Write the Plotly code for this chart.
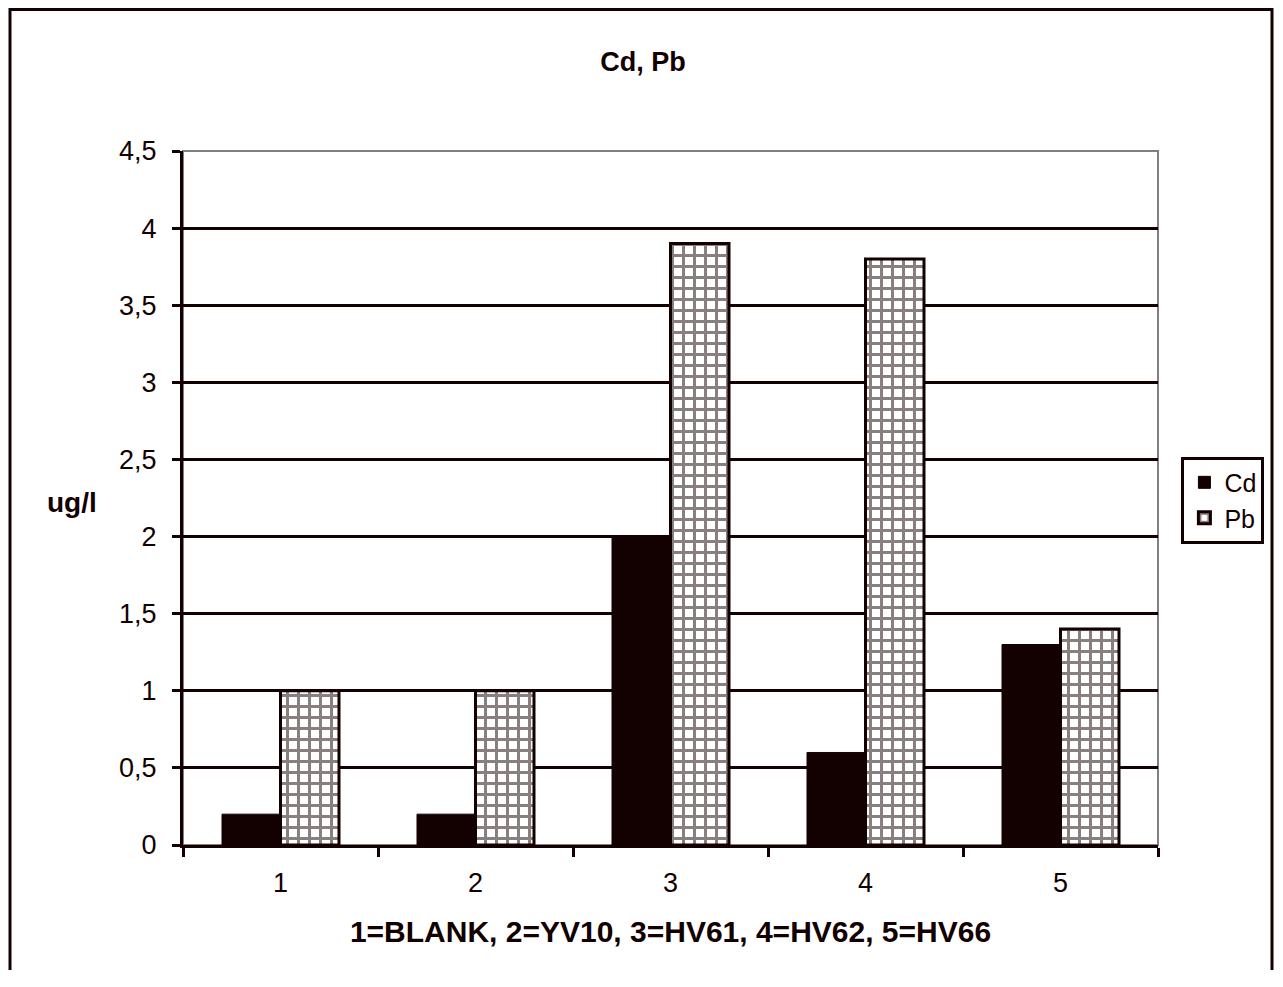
import plotly.graph_objects as go

# ── Data ──────────────────────────────────────────────────────────────────────
categories = ["1", "2", "3", "4", "5"]
cd_values  = [0.2, 0.2, 2.0, 0.6, 1.3]
pb_values  = [1.0, 1.0, 3.9, 3.8, 1.4]
y_ticks    = [0, 0.5, 1, 1.5, 2, 2.5, 3, 3.5, 4, 4.5]
y_labels   = ["0", "0,5", "1", "1,5", "2", "2,5", "3", "3,5", "4", "4,5"]

INK  = "#130000"
FONT = "Liberation Sans, Arial, sans-serif"

fig = go.Figure()

fig.add_trace(go.Bar(
    x=categories, y=cd_values, name="Cd",
    marker=dict(color=INK, line=dict(color=INK, width=1)),
))
fig.add_trace(go.Bar(
    x=categories, y=pb_values, name="Pb",
    marker=dict(
        color="white",
        line=dict(color=INK, width=3),
        # 11px cells with 3px lines
        pattern=dict(shape="+", size=11, solidity=0.471,
                     fgcolor=INK, bgcolor="white", fillmode="overlay"),
    ),
))

# ── Frames ────────────────────────────────────────────────────────────────────
# page body has an 8px margin: keep the figure inside the window (no scrollbar)
fig.add_shape(type="rect", xref="paper", yref="paper",
              x0=0, x1=1, y0=0, y1=1, layer="below",
              line=dict(color="#808080", width=2))
fig.add_shape(type="rect", xref="paper", yref="paper",
              x0=(10 - 183) / 975, x1=(1272 - 183) / 975,
              y0=-0.3, y1=1.204, layer="above",
              line=dict(color=INK, width=3))

fig.update_layout(
    width=1275, height=962,
    paper_bgcolor="white", plot_bgcolor="white",
    font=dict(family=FONT, color=INK, size=26),
    title=dict(text="<b>Cd, Pb</b>", x=(643 - 8) / 1275, xanchor="center",
               y=1 - 54 / 962, yanchor="middle", font=dict(size=27)),
    margin=dict(l=175, r=125, t=143, b=125),
    barmode="group", bargap=0.4, bargroupgap=0,
    showlegend=True,
    legend=dict(x=1.024, y=0.497, xanchor="left", yanchor="middle",
                bordercolor=INK, borderwidth=3, bgcolor="white",
                font=dict(size=25), itemwidth=30, tracegroupgap=0),
    xaxis=dict(
        type="category", tickson="boundaries", ticks="outside",
        ticklen=9, tickwidth=3, tickcolor=INK,
        showline=True, linecolor=INK, linewidth=3,
        showgrid=False,
        title=dict(text="<b>1=BLANK, 2=YV10, 3=HV61, 4=HV62, 5=HV66</b>",
                   font=dict(size=30), standoff=24),
        tickfont=dict(size=27),
        ticklabelstandoff=12,
    ),
    yaxis=dict(
        range=[0, 4.5], tickvals=y_ticks, ticktext=y_labels,
        ticks="outside", ticklen=8, tickwidth=3, tickcolor=INK,
        showline=True, linecolor=INK, linewidth=3,
        showgrid=True, gridcolor=INK, gridwidth=3, zeroline=False,
        tickfont=dict(size=27),
        ticklabelstandoff=10,
    ),
)

fig.add_annotation(text="<b>ug/l</b>", xref="paper", yref="paper",
                   x=(72 - 183) / 975, y=(845 - 502) / 694,
                   xanchor="center", yanchor="middle",
                   showarrow=False, font=dict(size=28))

fig.write_html("out.html")
